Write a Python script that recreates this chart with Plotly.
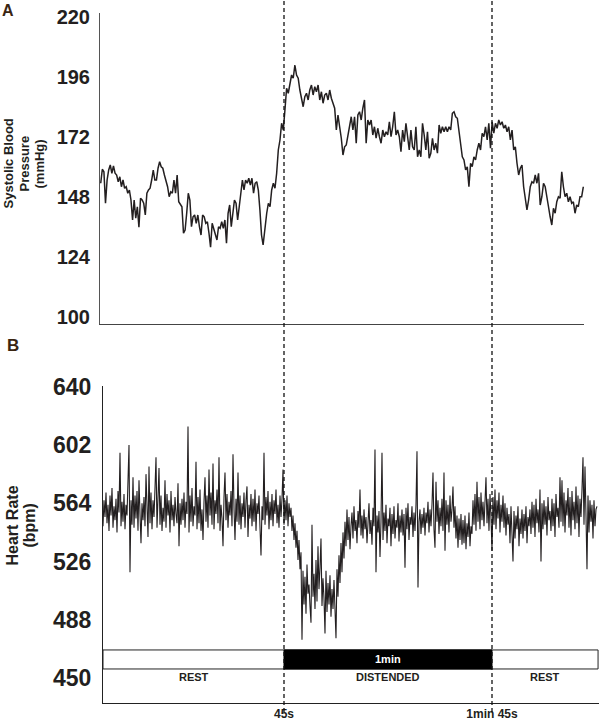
import numpy as np
import plotly.graph_objects as go

W, H = 600, 722

# ---------------- data ----------------
# Systolic blood pressure (mmHg), two sampled segments
sbp_seg1 = [153.5, 159.1, 158.1, 145.5, 154.8, 158.8, 160.8, 157.5, 160.4, 157.5,
            156.8, 154.1, 156.1, 152.1, 154.8, 151.5, 152.1, 149.5, 150.8, 146.8,
            138.8, 146.8, 139.5, 144.1, 135.9, 147.5, 146.8, 145.5, 140.8, 149.5,
            150.8, 151.5, 154.8, 158.8, 154.8, 154.8, 159.5, 162.1, 160.1, 159.5,
            156.8, 154.8, 152.1, 148.1, 150.1, 149.5, 154.8, 149.5, 156.8, 146.1,
            144.8, 144.1, 133.5, 134.8, 141.5, 149.5, 146.8, 136.1, 140.1, 140.8,
            137.5, 140.8, 136.1, 132.8, 140.8, 140.1, 137.5, 138.1, 133.5, 127.9,
            137.5, 135.5, 133.5, 130.8, 136.1, 135.5, 138.1, 135.5, 138.8, 129.5,
            141.5, 144.8, 136.1, 141.5, 146.8, 145.5, 138.8, 144.1, 149.5, 154.8,
            150.8, 154.8, 153.5, 155.5, 152.8, 155.5, 149.5, 153.5, 154.1, 150.8,
            142.8, 132.8, 128.8, 134.8]
sbp_seg2 = [141.5, 145.5, 144.1, 150.8, 153.5, 151.5, 157.5, 166.8, 170.8, 177.5,
            174.8, 182.8, 191.5, 189.5, 194.1, 196.8, 195.5, 200.8, 196.8, 195.5,
            190.8, 187.5, 184.1, 188.1, 189.5, 186.8, 190.8, 192.8, 188.8, 192.1,
            190.1, 192.8, 186.8, 190.1, 185.5, 188.8, 189.5, 186.8, 190.8, 187.5,
            185.5, 183.5, 174.8, 180.8, 176.1, 171.5, 164.8, 168.1, 168.8, 172.1,
            176.8, 180.1, 174.8, 180.1, 169.5, 180.8, 182.1, 178.8, 183.5, 186.8,
            169.5, 178.8, 176.8, 178.8, 172.8, 176.1, 171.5, 175.5, 172.1, 169.5,
            174.8, 172.1, 174.1, 172.8, 178.1, 172.1, 176.1, 182.1, 172.8, 174.8,
            172.1, 166.1, 174.8, 170.1, 177.5, 170.8, 166.8, 174.8, 168.1, 166.8,
            176.1, 164.1, 166.8, 164.1, 177.5, 172.8, 166.8, 174.1, 163.5, 165.5,
            171.5, 166.8, 169.5, 165.5, 176.8, 173.5, 176.1, 174.1, 176.1, 174.1,
            176.1, 174.8, 181.5, 182.1, 180.1, 179.5, 173.5, 168.1, 164.1, 162.8,
            158.8, 160.1, 152.1, 161.5, 160.1, 164.1, 162.8, 166.8, 169.5, 166.8,
            173.5, 172.1, 176.1, 170.8, 177.5, 167.5, 178.1, 173.5, 177.5, 175.5,
            178.8, 176.8, 178.1, 175.5, 176.8, 174.1, 176.1, 170.8, 174.8, 166.8,
            168.1, 161.5, 156.8, 159.5, 160.8, 152.1, 148.1, 142.8, 146.8, 152.1,
            154.1, 153.5, 156.8, 153.5, 157.5, 144.8, 148.1, 153.5, 152.1, 148.8,
            144.1, 140.1, 136.8, 143.5, 141.5, 146.1, 148.1, 147.5, 158.1, 152.1,
            148.1, 149.5, 146.1, 148.1, 145.5, 146.1, 141.5, 144.8, 144.1, 148.1,
            148.1, 152.1]
sbp_seg1_span = (-7.87, 39.43)   # seconds
sbp_seg2_span = (40.01, 131.34)  # seconds

# Heart rate (bpm), evenly sampled
hr_values = [
    549, 566, 555, 571, 551, 563, 546, 569, 556, 574, 548, 562, 553, 567, 545, 572, 558, 597, 549, 565,
    552, 570, 547, 563, 556, 575, 602, 519, 566, 550, 581, 548, 569, 554, 572, 546, 579, 557, 538, 564,
    553, 568, 549, 583, 560, 542, 588, 551, 571, 547, 566, 555, 574, 594, 548, 563, 587, 550, 569, 546,
    561, 552, 579, 548, 570, 556, 566, 545, 572, 553, 563, 549, 568, 557, 551, 577, 536, 564, 550, 567,
    553, 571, 548, 565, 557, 614, 545, 569, 552, 574, 549, 562, 556, 591, 547, 568, 551, 573, 546, 560,
    540, 565, 581, 552, 569, 548, 586, 556, 571, 550, 590, 547, 566, 557, 573, 551, 594, 546, 563, 554,
    536, 568, 584, 553, 570, 548, 565, 556, 572, 549, 596, 561, 540, 567, 552, 584, 550, 569, 547, 564,
    555, 571, 548, 566, 575, 542, 563, 554, 570, 549, 567, 552, 573, 546, 564, 557, 569, 548, 530, 562,
    553, 597, 550, 568, 556, 572, 547, 565, 553, 570, 549, 566, 557, 573, 551, 563, 548, 569, 555, 567,
    586, 550, 566, 553, 569, 549, 564, 555, 561, 546, 556, 540, 551, 535, 546, 527, 540, 521, 532, 475,
    520, 498, 516, 492, 524, 505, 511, 497, 486, 550, 503, 518, 495, 527, 500, 536, 508, 522, 541, 497,
    515, 502, 479, 520, 493, 512, 498, 517, 490, 508, 495, 514, 488, 476, 521, 503, 530, 512, 538, 519,
    545, 528, 552, 536, 560, 540, 555, 534, 549, 558, 541, 562, 546, 553, 538, 559, 548, 573, 543, 556,
    541, 560, 547, 555, 538, 558, 564, 544, 553, 537, 561, 549, 599, 519, 556, 545, 559, 529, 552, 597,
    540, 558, 546, 563, 538, 554, 549, 561, 536, 557, 544, 562, 541, 553, 548, 564, 539, 556, 545, 560,
    543, 557, 522, 561, 547, 564, 540, 555, 550, 562, 542, 558, 546, 563, 598, 509, 552, 560, 544, 557,
    548, 561, 543, 558, 551, 565, 545, 560, 549, 563, 584, 547, 535, 578, 552, 566, 544, 561, 549, 567,
    546, 584, 533, 566, 550, 563, 545, 569, 552, 560, 575, 548, 562, 541, 556, 535, 554, 540, 557, 537,
    553, 538, 556, 534, 551, 542, 558, 536, 549, 544, 566, 550, 570, 546, 578, 552, 568, 547, 571, 553,
    565, 549, 572, 581, 551, 567, 546, 570, 555, 533, 568, 550, 573, 547, 566, 554, 571, 545, 563, 552,
    569, 548, 564, 543, 561, 550, 557, 538, 562, 545, 526, 559, 541, 556, 547, 562, 536, 554, 544, 560,
    541, 557, 546, 562, 538, 555, 549, 560, 544, 565, 548, 563, 542, 567, 551, 560, 545, 573, 526, 564,
    547, 566, 550, 562, 543, 568, 553, 559, 546, 567, 549, 564, 542, 570, 555, 561, 548, 581, 552, 579,
    549, 571, 545, 566, 556, 574, 548, 568, 543, 572, 553, 565, 547, 575, 551, 569, 542, 567, 555, 573,
    594, 550, 588, 556, 521, 569, 545, 566, 552, 563, 541, 566, 549, 560, 562]
hr_start = -7.21   # seconds
hr_step = 0.28846  # seconds

event_times = [45, 105]
event_labels = ["45s", "1min 45s"]
phase_bounds = [-7.21, 45, 105, 135.6]
phase_labels = ["REST", "DISTENDED", "REST"]
phase_bar_label = "1min"
sbp_ticks = [100, 124, 148, 172, 196, 220]
hr_ticks = [450, 488, 526, 564, 602, 640]
hr_bar_range = (455.9, 468.3)
hr_text_level = 450.7

# ---------------- figure ----------------
sbp_t = np.concatenate([np.linspace(*sbp_seg1_span, len(sbp_seg1)),
                        np.linspace(*sbp_seg2_span, len(sbp_seg2))])
sbp_v = sbp_seg1 + sbp_seg2
hr_t = hr_start + hr_step * np.arange(len(hr_values))

def px(x):
    return x / W

def py(y):
    return 1 - y / H

INK = "#231f20"
FAM = "Liberation Sans, Arial, sans-serif"
fig = go.Figure()
fig.add_trace(go.Scatter(x=sbp_t, y=sbp_v, mode="lines", xaxis="x", yaxis="y",
                         line=dict(color=INK, width=1.5), showlegend=False, hoverinfo="skip"))
fig.add_trace(go.Scatter(x=hr_t, y=hr_values, mode="lines", xaxis="x2", yaxis="y2",
                         line=dict(color=INK, width=1.1), showlegend=False, hoverinfo="skip"))

tickfontA = dict(family=FAM, size=20, color=INK, weight="bold")
tickfontB = dict(family=FAM, size=23, color=INK, weight="bold")

fig.update_layout(
    width=W, height=H, margin=dict(l=0, r=0, t=0, b=0, autoexpand=False),
    paper_bgcolor="white", plot_bgcolor="white",
    xaxis=dict(domain=[px(100), px(584)], range=[-8.08, 131.54], showgrid=False, zeroline=False,
               showline=True, linecolor="#444", linewidth=1, showticklabels=False, ticks="",
               automargin=False),
    yaxis=dict(domain=[py(324), py(13)], range=[97.2, 221.6], showgrid=False, zeroline=False,
               showline=True, linecolor="#555", linewidth=1, tickvals=sbp_ticks, ticks="",
               tickfont=tickfontA, ticklabelstandoff=5, automargin=False),
    xaxis2=dict(domain=[px(103), px(599)], range=[-7.21, 135.87], showgrid=False, zeroline=False,
                showline=True, linecolor="#222", linewidth=1, anchor="y2", ticks="",
                tickvals=event_times, ticktext=event_labels,
                tickfont=dict(family=FAM, size=12, color=INK, weight="bold"),
                ticklabelstandoff=0, automargin=False),
    yaxis2=dict(domain=[py(703), py(386)], range=[433.7, 640.5], showgrid=False, zeroline=False,
                showline=True, linecolor="#222", linewidth=1, anchor="x2", tickvals=hr_ticks, ticks="",
                tickfont=tickfontB, ticklabelstandoff=6, automargin=False),
)

shapes = []
# phase strip
shapes.append(dict(type="rect", xref="x2", yref="y2", x0=phase_bounds[0], x1=phase_bounds[3],
                   y0=hr_bar_range[0], y1=hr_bar_range[1], line=dict(color="#222", width=1),
                   fillcolor="white", layer="above"))
shapes.append(dict(type="rect", xref="x2", yref="y2", x0=phase_bounds[1], x1=phase_bounds[2],
                   y0=hr_bar_range[0], y1=hr_bar_range[1], line=dict(color="black", width=1),
                   fillcolor="black", layer="above"))
# event dashed lines
for t in event_times:
    shapes.append(dict(type="line", xref="x", yref="paper", x0=t, x1=t, y0=py(712), y1=1,
                       line=dict(color="#111", width=1.3, dash="4px,3px"), layer="above"))
fig.update_layout(shapes=shapes)

ann = []
lblfont = dict(family=FAM, size=11, color=INK, weight="bold")
for i, lab in enumerate(phase_labels):
    ann.append(dict(xref="x2", yref="y2", x=(phase_bounds[i] + phase_bounds[i + 1]) / 2, y=hr_text_level,
                    text=lab, showarrow=False, font=lblfont, yanchor="middle"))
ann.append(dict(xref="x2", yref="y2", x=(phase_bounds[1] + phase_bounds[2]) / 2,
                y=sum(hr_bar_range) / 2, text=phase_bar_label, showarrow=False, yanchor="middle",
                font=dict(family=FAM, size=11, color="white", weight="bold")))
# axis titles
titleA = dict(family=FAM, size=13, color=INK, weight="bold")
for xc, txt in [(7.5, "Systolic Blood"), (23.5, "Pressure"), (38.5, "(mmHg)")]:
    ann.append(dict(xref="paper", yref="paper", x=px(xc), y=py(164), text=txt, textangle=-90,
                    showarrow=False, font=titleA, xanchor="center", yanchor="middle"))
titleB = dict(family=FAM, size=16, color=INK, weight="bold")
for xc, txt in [(11.5, "Heart Rate"), (28.5, "(bpm)")]:
    ann.append(dict(xref="paper", yref="paper", x=px(xc), y=py(526), text=txt, textangle=-90,
                    showarrow=False, font=titleB, xanchor="center", yanchor="middle"))
# panel letters
ann.append(dict(xref="paper", yref="paper", x=px(7.5), y=py(10.5), text="A", showarrow=False,
                xanchor="center", yanchor="middle",
                font=dict(family=FAM, size=16, color="#3a2512", weight="bold")))
ann.append(dict(xref="paper", yref="paper", x=px(12.5), y=py(345), text="B", showarrow=False,
                xanchor="center", yanchor="middle",
                font=dict(family=FAM, size=17, color="#3a2512", weight="bold")))
fig.update_layout(annotations=ann)

fig.write_html("out.html", config={"displayModeBar": False},
               post_script="document.body.style.margin='0px';")
